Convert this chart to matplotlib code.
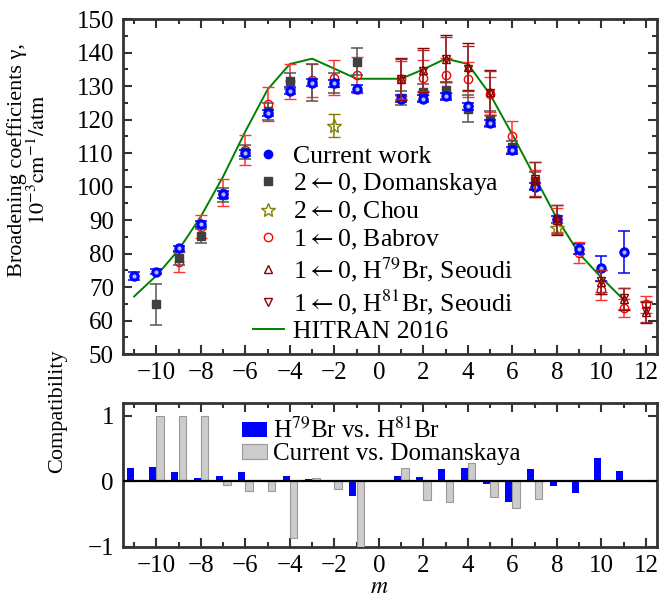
import numpy as np
import matplotlib
matplotlib.use("Agg")
import matplotlib.pyplot as plt
from matplotlib.lines import Line2D
from matplotlib.ticker import MultipleLocator

plt.rcParams['font.family'] = ['Liberation Serif', 'DejaVu Serif']
plt.rcParams['mathtext.fontset'] = 'stix'

# ---------------- data ----------------
m_cur = [-11, -10, -9, -8, -7, -6, -5, -4, -3, -2, -1, 1, 2, 3, 4, 5, 6, 7, 8, 9, 10, 11]
g_cur = [73.2, 74.6, 81.6, 88.8, 97.7, 110.0, 122.0, 128.6, 131.0, 130.8, 129.2,
         126.3, 126.3, 127.0, 124.0, 119.0, 110.8, 100.0, 90.2, 81.5, 75.6, 80.5]
e_cur = [1.2, 0.8, 0.8, 0.9, 1.0, 1.0, 1.0, 1.0, 1.0, 1.0, 1.0,
         1.0, 1.0, 1.0, 1.0, 1.0, 1.0, 1.0, 1.0, 1.5, 3.8, 6.2]

m_dom = [-10, -9, -8, -7, -6, -5, -4, -3, -2, -1, 1, 2, 3, 4, 5, 6, 7]
g_dom = [64.8, 78.6, 85.2, 97.5, 110.3, 122.5, 131.5, 131.2, 131.0, 137.3,
         126.5, 128.2, 128.8, 123.2, 120.2, 111.7, 101.8]
e_dom = [6.0, 2.0, 2.0, 2.0, 2.2, 2.5, 2.5, 5.5, 3.0, 4.0,
         2.0, 2.5, 2.5, 4.0, 2.5, 2.0, 2.5]

m_chou = [-2, 8]
g_chou = [118.2, 87.5]
e_chou = [3.5, 1.5]

m_bab = [-9, -8, -7, -6, -5, -4, -3, -2, -1, 1, 2, 3, 4, 5, 6, 7, 8, 9, 10, 11, 12]
g_bab = [77.5, 88.0, 98.2, 110.8, 124.6, 131.5, 131.7, 132.5, 133.3,
         132.2, 132.5, 133.2, 132.0, 127.5, 115.0, 101.0, 90.0, 80.3, 69.0, 63.8, 64.8]
e_bab = [3.0, 3.5, 4.0, 4.5, 5.0, 5.2, 5.0, 5.3, 5.3,
         5.3, 5.3, 5.3, 5.3, 5.1, 4.6, 4.0, 3.6, 3.2, 2.8, 2.6, 2.6]

m_s79 = [1, 2, 3, 4, 5, 7, 8, 10, 11, 12]
g_s79 = [132.2, 134.8, 138.2, 135.8, 128.2, 102.0, 90.0, 71.5, 66.5, 62.5]
e_s79 = [6.3, 6.5, 7.0, 7.0, 6.7, 5.2, 4.5, 3.5, 3.3, 3.1]
m_s81 = [1, 2, 3, 4, 5, 7, 8, 10, 11, 12]
g_s81 = [132.2, 134.6, 138.0, 135.2, 128.0, 102.2, 90.2, 71.8, 66.6, 62.7]
e_s81 = [6.0, 6.2, 6.8, 6.8, 6.5, 5.0, 4.4, 3.4, 3.2, 3.0]

m_hit = [-11, -10, -9, -8, -7, -6, -5, -4, -3, -2, -1, 1, 2, 3, 4, 5, 6, 7, 8, 9, 10, 11]
g_hit = [67.2, 73.4, 81.1, 91.1, 103.0, 116.5, 129.0, 136.6, 138.2, 135.2, 132.2,
         132.2, 135.0, 138.2, 136.6, 127.5, 115.5, 103.0, 90.5, 80.0, 72.8, 66.2]

m_iso = [-11, -10, -9, -8, -7, -6, -5, -4, -3, -2, -1, 1, 2, 3, 4, 5, 6, 7, 8, 9, 10, 11]
c_iso = [0.21, 0.22, 0.15, 0.055, 0.086, 0.15, 0.01, 0.086, 0.04, 0.025, -0.22,
         0.09, 0.066, 0.19, 0.21, -0.045, -0.32, 0.19, -0.07, -0.17, 0.36, 0.16]
m_cd = [-10, -9, -8, -7, -6, -5, -4, -3, -2, -1, 1, 2, 3, 4, 5, 6, 7]
c_cd = [1.0, 1.0, 1.0, -0.05, -0.15, -0.15, -0.86, 0.05, -0.12, -1.0,
        0.21, -0.29, -0.31, 0.28, -0.23, -0.41, -0.27]

xticks = [-10, -8, -6, -4, -2, 0, 2, 4, 6, 8, 10, 12]

# ---------------- figure ----------------
fig = plt.figure(figsize=(6.7, 5.98), dpi=100)
ax1 = fig.add_axes([0.1836, 0.408, 0.797, 0.560])
ax2 = fig.add_axes([0.1836, 0.0853, 0.797, 0.241])

spine_col = '#333333'
TICK_FS = 18
for ax in (ax1, ax2):
    for s in ax.spines.values():
        s.set_linewidth(2.0)
        s.set_color(spine_col)
    ax.tick_params(which='both', direction='in', top=True, right=True,
                   width=1.5, color=spine_col, labelsize=TICK_FS)
    ax.tick_params(axis='x', which='both', pad=5.5)
    ax.tick_params(axis='y', which='both', pad=6.5)
    ax.tick_params(which='major', length=6.5)
    ax.tick_params(which='minor', length=3.5)
    ax.set_xlim(-11.5, 12.5)
    ax.set_xticks(xticks)
    ax.xaxis.set_minor_locator(MultipleLocator(1))

# top panel
ax1.set_ylim(50, 150)
ax1.yaxis.set_major_locator(MultipleLocator(10))
ax1.yaxis.set_minor_locator(MultipleLocator(5))

ax1.plot(m_hit, g_hit, color='#008000', lw=1.4, zorder=2)

ms = 6
ax1.errorbar(m_bab, g_bab, yerr=e_bab, fmt='o', mfc='none', mec='#ff0000',
             ms=ms, mew=1.0, ecolor='#ff3333', elinewidth=1.1, capsize=4, capthick=1.1, zorder=3)
ax1.errorbar(m_dom, g_dom, yerr=e_dom, fmt='s', color='#404040', ms=ms,
             ecolor='#555555', elinewidth=1.1, capsize=4, capthick=1.1, zorder=4)
ax1.errorbar(m_cur, g_cur, yerr=e_cur, fmt='o', color='#0000ff', ms=ms + 0.5,
             ecolor='#0000ff', elinewidth=1.1, capsize=4, capthick=1.1, zorder=5)
ax1.plot(m_cur, g_cur, 'o', color='#aabbff', ms=2.0, zorder=6, ls='none')
ax1.errorbar(m_chou, g_chou, yerr=e_chou, fmt='*', mfc='none', mec='#808000',
             ms=ms + 4, mew=1.0, ecolor='#808000', elinewidth=1.1, capsize=4, capthick=1.1, zorder=6)
ax1.errorbar(m_s79, g_s79, yerr=e_s79, fmt='^', mfc='none', mec='#8b0000',
             ms=ms - 0.5, mew=1.0, ecolor='#8b0000', elinewidth=1.1, capsize=4, capthick=1.1, zorder=7)
ax1.errorbar(m_s81, g_s81, yerr=e_s81, fmt='v', mfc='none', mec='#8b0000',
             ms=ms - 0.5, mew=1.0, ecolor='#a03030', elinewidth=1.1, capsize=4, capthick=1.1, zorder=7)

handles = [
    Line2D([], [], ls='none', marker='o', color='#0000ff', ms=ms),
    Line2D([], [], ls='none', marker='s', color='#404040', ms=ms),
    Line2D([], [], ls='none', marker='*', mfc='none', mec='#808000', ms=ms + 4),
    Line2D([], [], ls='none', marker='o', mfc='none', mec='#ff0000', ms=ms),
    Line2D([], [], ls='none', marker='^', mfc='none', mec='#8b0000', ms=ms - 0.5),
    Line2D([], [], ls='none', marker='v', mfc='none', mec='#8b0000', ms=ms - 0.5),
    Line2D([], [], color='#008000', lw=1.4),
]
labels = [
    'Current work',
    r'2$\leftarrow$0, Domanskaya',
    r'2$\leftarrow$0, Chou',
    r'1$\leftarrow$0, Babrov',
    r'1$\leftarrow$0, H$^{79}$Br, Seoudi',
    r'1$\leftarrow$0, H$^{81}$Br, Seoudi',
    'HITRAN 2016',
]
ax1.legend(handles, labels, loc='upper left', bbox_to_anchor=(0.243, 0.625),
           frameon=False, fontsize=18.5, handlelength=1.2, handletextpad=0.35,
           labelspacing=0.13, borderpad=0, borderaxespad=0)

ax1.set_ylabel('Broadening coefficients γ,\n' + r'$10^{-3}\mathrm{cm}^{-1}/\mathrm{atm}$',
               fontsize=16, linespacing=1.0)
ax1.yaxis.set_label_coords(-0.137, 0.58)

# bottom panel
ax2.set_ylim(-1, 1.2)
ax2.set_yticks([-1, 0, 1])
ax2.bar(np.array(m_iso) - 0.17, c_iso, width=0.32, color='#0000ff', zorder=3,
        label=r'H$^{79}$Br vs. H$^{81}$Br')
ax2.bar(np.array(m_cd) + 0.17, c_cd, width=0.34, color='#cccccc', edgecolor='#999999',
        linewidth=0.8, zorder=3, label='Current vs. Domanskaya')
ax2.axhline(0, color='black', lw=1.6, zorder=4)
ax2.legend(loc='upper left', bbox_to_anchor=(0.223, 0.895), frameon=False, fontsize=18,
           handlelength=1.0, handleheight=0.5, handletextpad=0.25, labelspacing=0.0,
           borderpad=0, borderaxespad=0)
ax2.set_ylabel('Compatibility', fontsize=16)
ax2.yaxis.set_label_coords(-0.105, 0.94)
ax2.set_xlabel('$m$', fontsize=17)
ax2.xaxis.set_label_coords(0.48, -0.205)

fig.savefig('out.png', dpi=100)
